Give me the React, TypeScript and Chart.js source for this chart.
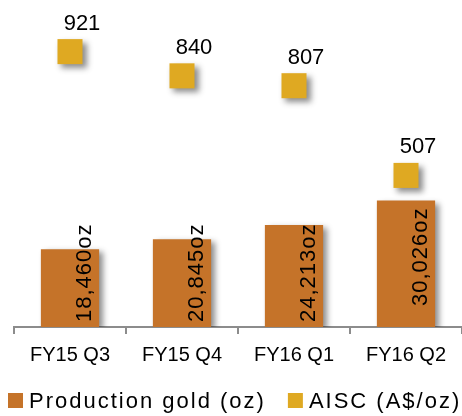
import React, { useEffect, useRef } from 'react';
import { Chart, registerables } from 'chart.js';

Chart.register(...registerables);

// Quarterly production and all-in sustaining cost
const quarters = ['FY15 Q3', 'FY15 Q4', 'FY16 Q1', 'FY16 Q2'];
const productionOz = [18460, 20845, 24213, 30026];
const aiscPerOz = [921, 840, 807, 507];
const seriesNames = ['Production gold (oz)', 'AISC (A$/oz)'];

const FONT = "'Liberation Sans', Arial, sans-serif";
const BAR_COLOR = '#C57329';
const MARKER_COLOR = '#DFA922';
const AXIS_COLOR = '#8c8c8c';
const TEXT_COLOR = '#000000';

// Soft drop shadow behind bars and markers
const shadowPlugin = {
  id: 'softShadow',
  beforeDatasetDraw(chart: any, args: any) {
    const ctx = chart.ctx;
    ctx.save();
    ctx.shadowColor = 'rgba(0,0,0,0.45)';
    ctx.shadowBlur = 6;
    ctx.shadowOffsetX = 4;
    ctx.shadowOffsetY = args.index === 0 ? 3 : 4;
  },
  afterDatasetDraw(chart: any) {
    chart.ctx.restore();
  },
};

// Rotated production labels inside the bars, AISC values above the markers
const valueLabelPlugin = {
  id: 'valueLabels',
  afterDatasetsDraw(chart: any) {
    const ctx = chart.ctx;
    const bars = chart.getDatasetMeta(0).data;
    bars.forEach((bar: any, i: number) => {
      const { x, y, base } = bar.getProps(['x', 'y', 'base'], true);
      const text = productionOz[i].toLocaleString('en-US') + 'oz';
      ctx.save();
      ctx.font = `22px ${FONT}`;
      (ctx as any).letterSpacing = '1px';
      ctx.fillStyle = TEXT_COLOR;
      const len = ctx.measureText(text).width;
      let start = y + 7 + len;
      if (start > base - 5) start = base - 5;
      ctx.translate(x + 21, start);
      ctx.rotate(-Math.PI / 2);
      ctx.textAlign = 'left';
      ctx.textBaseline = 'alphabetic';
      ctx.fillText(text, 0, 0);
      ctx.restore();
    });

    const points = chart.getDatasetMeta(1).data;
    points.forEach((pt: any, i: number) => {
      const { x, y } = pt.getProps(['x', 'y'], true);
      ctx.save();
      ctx.font = `22px ${FONT}`;
      ctx.fillStyle = TEXT_COLOR;
      ctx.textAlign = 'center';
      ctx.textBaseline = 'alphabetic';
      ctx.fillText(String(aiscPerOz[i]), x + 12, y - 22);
      ctx.restore();
    });
  },
};

// Legend row along the bottom edge
const legendPlugin = {
  id: 'bottomLegend',
  afterDraw(chart: any) {
    const ctx = chart.ctx;
    const colors = [BAR_COLOR, MARKER_COLOR];
    const boxSize = 15;
    const boxTop = chart.height - 23;
    let x = 8;
    ctx.save();
    ctx.font = `22px ${FONT}`;
    (ctx as any).letterSpacing = '2px';
    ctx.textAlign = 'left';
    ctx.textBaseline = 'alphabetic';
    seriesNames.forEach((name, i) => {
      ctx.fillStyle = colors[i];
      ctx.fillRect(x, boxTop, boxSize, boxSize);
      const tx = x + boxSize + 6;
      ctx.fillStyle = TEXT_COLOR;
      ctx.fillText(name, tx, boxTop + 15);
      x = tx + ctx.measureText(name).width + 22;
    });
    ctx.restore();
  },
};

export default function App() {
  const canvasRef = useRef<HTMLCanvasElement>(null);

  useEffect(() => {
    const canvas = canvasRef.current;
    if (!canvas) return;
    const chart = new Chart(canvas, {
      type: 'bar',
      data: {
        labels: quarters,
        datasets: [
          {
            type: 'bar',
            label: seriesNames[0],
            data: productionOz,
            backgroundColor: BAR_COLOR,
            borderWidth: 0,
            yAxisID: 'y',
            categoryPercentage: 1,
            barPercentage: 0.52,
            clip: 0,
            order: 2,
          } as any,
          {
            type: 'line',
            label: seriesNames[1],
            data: aiscPerOz,
            showLine: false,
            pointStyle: 'rect',
            pointRadius: 17.7,
            pointHoverRadius: 17.7,
            pointBackgroundColor: MARKER_COLOR,
            pointBorderWidth: 0,
            borderColor: MARKER_COLOR,
            yAxisID: 'y1',
            clip: false,
            order: 1,
          } as any,
        ],
      },
      options: {
        responsive: false,
        animation: false,
        events: [],
        layout: { autoPadding: false, padding: { top: 28, left: 14, right: 0, bottom: 40 } },
        plugins: {
          legend: { display: false },
          tooltip: { enabled: false },
        },
        scales: {
          x: {
            type: 'category',
            offset: true,
            grid: {
              offset: true,
              drawOnChartArea: false,
              drawTicks: true,
              tickLength: 7,
              color: AXIS_COLOR,
              lineWidth: 2,
            },
            border: { display: true, color: AXIS_COLOR, width: 2 },
            ticks: {
              color: TEXT_COLOR,
              font: { family: FONT, size: 20 },
              padding: 9,
              maxRotation: 0,
              autoSkip: false,
            },
          },
          y: { display: false, min: 0, max: 71000 },
          y1: { display: false, min: 0, max: 1000, position: 'right' },
        },
      },
      plugins: [shadowPlugin, valueLabelPlugin, legendPlugin],
    });
    return () => chart.destroy();
  }, []);

  return (
    <div style={{ position: 'fixed', left: 0, top: 0, width: 462, height: 416, background: '#ffffff' }}>
      <canvas ref={canvasRef} width={462} height={416} style={{ display: 'block' }} />
    </div>
  );
}
